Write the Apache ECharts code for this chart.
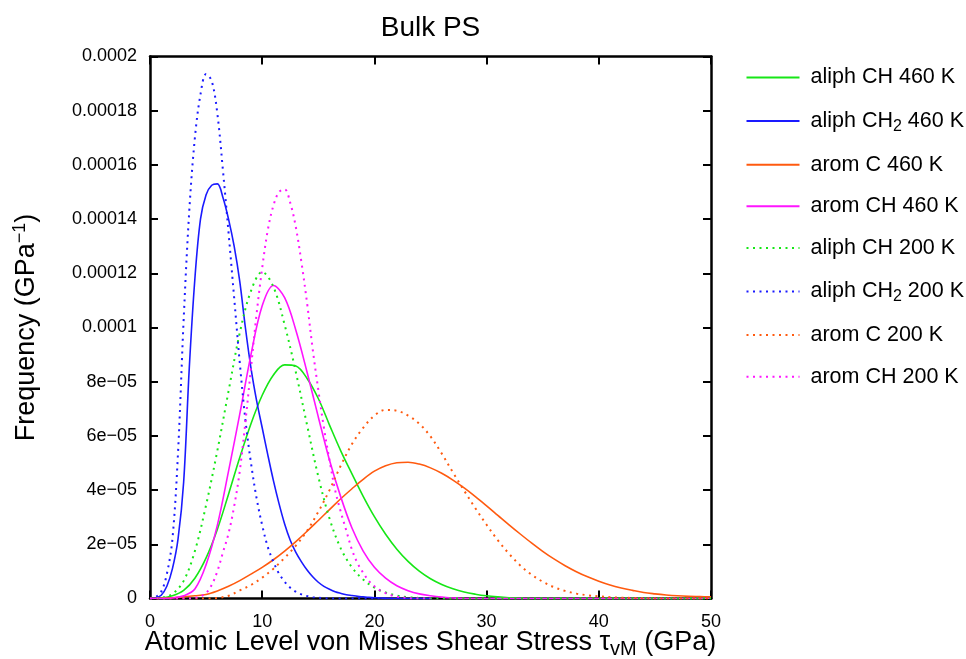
<!DOCTYPE html>
<html><head><meta charset="utf-8">
<script src="https://cdn.jsdelivr.net/npm/echarts@6/dist/echarts.min.js"></script>
<style>html,body{margin:0;padding:0;background:#fff}#c{width:966px;height:659px}</style>
</head><body><div id="c"></div>
<script>
// x positions (GPa): coarse grid for broad curves, fine grid for the narrow ones
const xCoarse = [0,1,2,3,4,5,6,7,8,9,10,11,12,13,14,15,16,17,18,19,20,21,22,23,24,25,26,27,28,29,30,31,32,33,34,35,36,37,38,39,40,41,42,43,44,45,46,47,48,49,50];
const xFine = [0,0.5,1,1.5,2,2.5,3,3.5,4,4.5,5,5.5,6,6.5,7,7.5,8,8.5,9,9.5,10,10.5,11,11.5,12,12.5,13,13.5,14,14.5,15,15.5,16,16.5,17,17.5,18,18.5,19,19.5,20,20.5,21,21.5,22,22.5,23,23.5,24,24.5,25];

// frequency values in units of 1e-05 GPa^-1
// coarse grid
const aliphCH460 = [0,0.02,0.1,0.3,0.75,1.5,2.55,3.85,5.2,6.45,7.5,8.25,8.62,8.58,8.12,7.38,6.4,5.45,4.6,3.77,3.02,2.37,1.82,1.37,1.01,0.73,0.52,0.36,0.24,0.16,0.1,0.06,0.03,0.01,0,0,0,0,0,0,0,0,0,0,0,0,0,0,0,0,0];
const aromC460 = [0,0.01,0.03,0.06,0.1,0.15,0.28,0.45,0.66,0.9,1.15,1.43,1.75,2.1,2.48,2.88,3.28,3.68,4.05,4.4,4.7,4.9,5.01,5.03,4.96,4.82,4.62,4.37,4.08,3.76,3.42,3.07,2.72,2.38,2.05,1.74,1.46,1.21,0.99,0.8,0.64,0.5,0.39,0.3,0.22,0.17,0.13,0.1,0.08,0.07,0.06];
const aromCH460 = [0,0,0.02,0.1,0.35,1.25,2.7,4.7,6.8,9.0,10.8,11.55,11.1,9.9,8.35,6.7,5.1,3.75,2.6,1.75,1.15,0.75,0.47,0.29,0.17,0.1,0.05,0.02,0,0,0,0,0,0,0,0,0,0,0,0,0,0,0,0,0,0,0,0,0,0,0];
const aliphCH200 = [0,0.03,0.17,0.65,1.75,3.45,5.45,7.65,9.8,11.35,12.05,11.5,10.1,8.35,6.4,4.5,2.95,1.85,1.15,0.7,0.4,0.22,0.11,0.05,0.02,0,0,0,0,0,0,0,0,0,0,0,0,0,0,0,0,0,0,0,0,0,0,0,0,0,0];
const aromC200 = [0,0,0,0,0,0,0.02,0.1,0.3,0.5,0.77,1.1,1.5,1.95,2.5,3.2,4.0,4.9,5.7,6.3,6.75,6.96,6.93,6.75,6.45,5.98,5.35,4.65,3.98,3.33,2.72,2.15,1.65,1.22,0.88,0.62,0.42,0.28,0.18,0.12,0.08,0.05,0.03,0.02,0.01,0,0,0,0,0,0];
// fine grid
const aliphCH2_460 = [0,0.02,0.12,0.45,1.1,2.2,4.3,8.5,11.8,14.0,14.9,15.25,15.3,14.8,14.0,13.0,11.7,10.0,8.5,7.3,6.3,5.3,4.35,3.5,2.75,2.15,1.7,1.35,1.05,0.8,0.6,0.45,0.34,0.25,0.19,0.14,0.11,0.08,0.06,0.04,0.03,0.02,0.01,0,0,0,0,0,0,0,0];
const aliphCH2_200 = [0,0.05,0.25,0.9,2.2,5.4,10.3,14.3,17.0,18.6,19.35,19.1,17.9,15.8,13.5,11.1,8.7,6.6,5.0,3.7,2.7,1.9,1.35,0.92,0.62,0.4,0.25,0.15,0.09,0.05,0.03,0.01,0,0,0,0,0,0,0,0,0,0,0,0,0,0,0,0,0,0,0];
const aromCH200 = [0,0,0,0,0,0,0,0,0.02,0.08,0.2,0.5,1.0,1.7,2.4,3.4,4.7,6.5,8.5,10.5,12.2,13.6,14.5,15.0,15.1,14.6,13.7,12.4,10.9,9.2,7.7,6.3,5.1,4.0,3.2,2.5,1.8,1.3,0.95,0.65,0.45,0.3,0.2,0.12,0.07,0.04,0.02,0,0,0,0];

const seriesNames = ['aliph CH 460 K','aliph CH2 460 K','arom C 460 K','arom CH 460 K','aliph CH 200 K','aliph CH2 200 K','arom C 200 K','arom CH 200 K'];
const seriesValues = [aliphCH460, aliphCH2_460, aromC460, aromCH460, aliphCH200, aliphCH2_200, aromC200, aromCH200];
const seriesX = [xCoarse, xFine, xCoarse, xCoarse, xCoarse, xFine, xCoarse, xFine];
const seriesColors = ['#16e616','#1a1aff','#ff5a0f','#ff14ff','#16e616','#1a1aff','#ff5a0f','#ff14ff'];
const seriesDotted = [false,false,false,false,true,true,true,true];

const yTickLabels = ['0','2e\u221205','4e\u221205','6e\u221205','8e\u221205','0.0001','0.00012','0.00014','0.00016','0.00018','0.0002'];
const xTickLabels = ['0','10','20','30','40','50'];

const FONT = "'Liberation Sans', Arial, Helvetica, sans-serif";
const chart = echarts.init(document.getElementById('c'), null, {renderer: 'canvas'});

const axisCommon = {
  type: 'value',
  axisLine: {show: true, onZero: false, lineStyle: {color: '#000', width: 2.5}},
  axisTick: {show: true, inside: true, length: 8, lineStyle: {color: '#000', width: 2}},
  splitLine: {show: false},
  minorTick: {show: false}
};

const series = seriesNames.map((name, i) => ({
  name: name,
  type: 'line',
  xAxisIndex: 0,
  yAxisIndex: 0,
  data: seriesX[i].map((x, j) => [x, seriesValues[i][j]]),
  smooth: 0.35,
  showSymbol: false,
  symbol: 'none',
  color: seriesColors[i],
  lineStyle: seriesDotted[i]
    ? {color: seriesColors[i], width: 2, type: [2, 4.5], cap: 'butt'}
    : {color: seriesColors[i], width: 1.6, type: 'solid'},
  z: 3
}));

chart.setOption({
  animation: false,
  backgroundColor: '#fff',
  textStyle: {fontFamily: FONT},
  grid: {left: 150, right: 255, top: 56.5, bottom: 60.5, containLabel: false, outerBoundsMode: 'none'},
  graphic: [{
    type: 'text', x: 430.5, y: 28,
    style: {text: 'Bulk PS', font: '28px ' + FONT, fill: '#000', textAlign: 'center', textVerticalAlign: 'middle'}
  }],
  xAxis: [
    Object.assign({}, axisCommon, {
      min: 0, max: 50, interval: 10, position: 'bottom',
      axisLabel: {fontSize: 18, color: '#000', fontFamily: FONT, margin: 15,
        formatter: v => xTickLabels[Math.round(v / 10)]},
      name: '{a|Atomic Level von Mises Shear Stress \u03c4}{s|vM}{a| (GPa)}',
      nameLocation: 'middle', nameGap: 29, nameMoveOverlap: false,
      nameTextStyle: {color: '#000', fontFamily: FONT, fontSize: 27,
        rich: {a: {fontSize: 27, fontFamily: FONT, color: '#000', lineHeight: 30},
               s: {fontSize: 20, fontFamily: FONT, color: '#000', lineHeight: 30, padding: [14, 0, 0, 0]}}}
    }),
    Object.assign({}, axisCommon, {
      min: 0, max: 50, interval: 10, position: 'top',
      axisLabel: {show: false}
    })
  ],
  yAxis: [
    Object.assign({}, axisCommon, {
      min: 0, max: 20, interval: 2, position: 'left',
      axisLabel: {fontSize: 18, color: '#000', fontFamily: FONT, margin: 13,
        formatter: v => yTickLabels[Math.round(v / 2)]},
      name: '{a|Frequency (GPa}{p|\u22121}{a|)}',
      nameLocation: 'middle', nameGap: 108, nameRotate: 90, nameMoveOverlap: false,
      nameTextStyle: {color: '#000', fontFamily: FONT, fontSize: 27,
        rich: {a: {fontSize: 27, fontFamily: FONT, color: '#000', lineHeight: 30},
               p: {fontSize: 18, fontFamily: FONT, color: '#000', lineHeight: 30, padding: [0, 0, 14, 0]}}}
    }),
    Object.assign({}, axisCommon, {
      min: 0, max: 20, interval: 2, position: 'right',
      axisLabel: {show: false}
    })
  ],
  legend: {
    show: true,
    orient: 'vertical',
    left: 740.5, top: 61.5,
    itemWidth: 53, itemHeight: 12, itemGap: 19.6,
    data: seriesNames,
    selectedMode: false,
    itemStyle: {opacity: 0},
    textStyle: {fontSize: 21.5, color: '#000', fontFamily: FONT, lineHeight: 22, padding: [0, 0, 0, 6],
      rich: {n: {fontSize: 21.5, fontFamily: FONT, color: '#000', lineHeight: 22},
             s: {fontSize: 16, fontFamily: FONT, color: '#000', lineHeight: 22, padding: [10, 0, 0, 0]}}},
    formatter: name => {
      const k = name.indexOf('CH2');
      if (k >= 0) return '{n|' + name.slice(0, k + 2) + '}{s|2}{n|' + name.slice(k + 3) + '}';
      return '{n|' + name + '}';
    }
  },
  series: series
});
</script>
</body></html>
